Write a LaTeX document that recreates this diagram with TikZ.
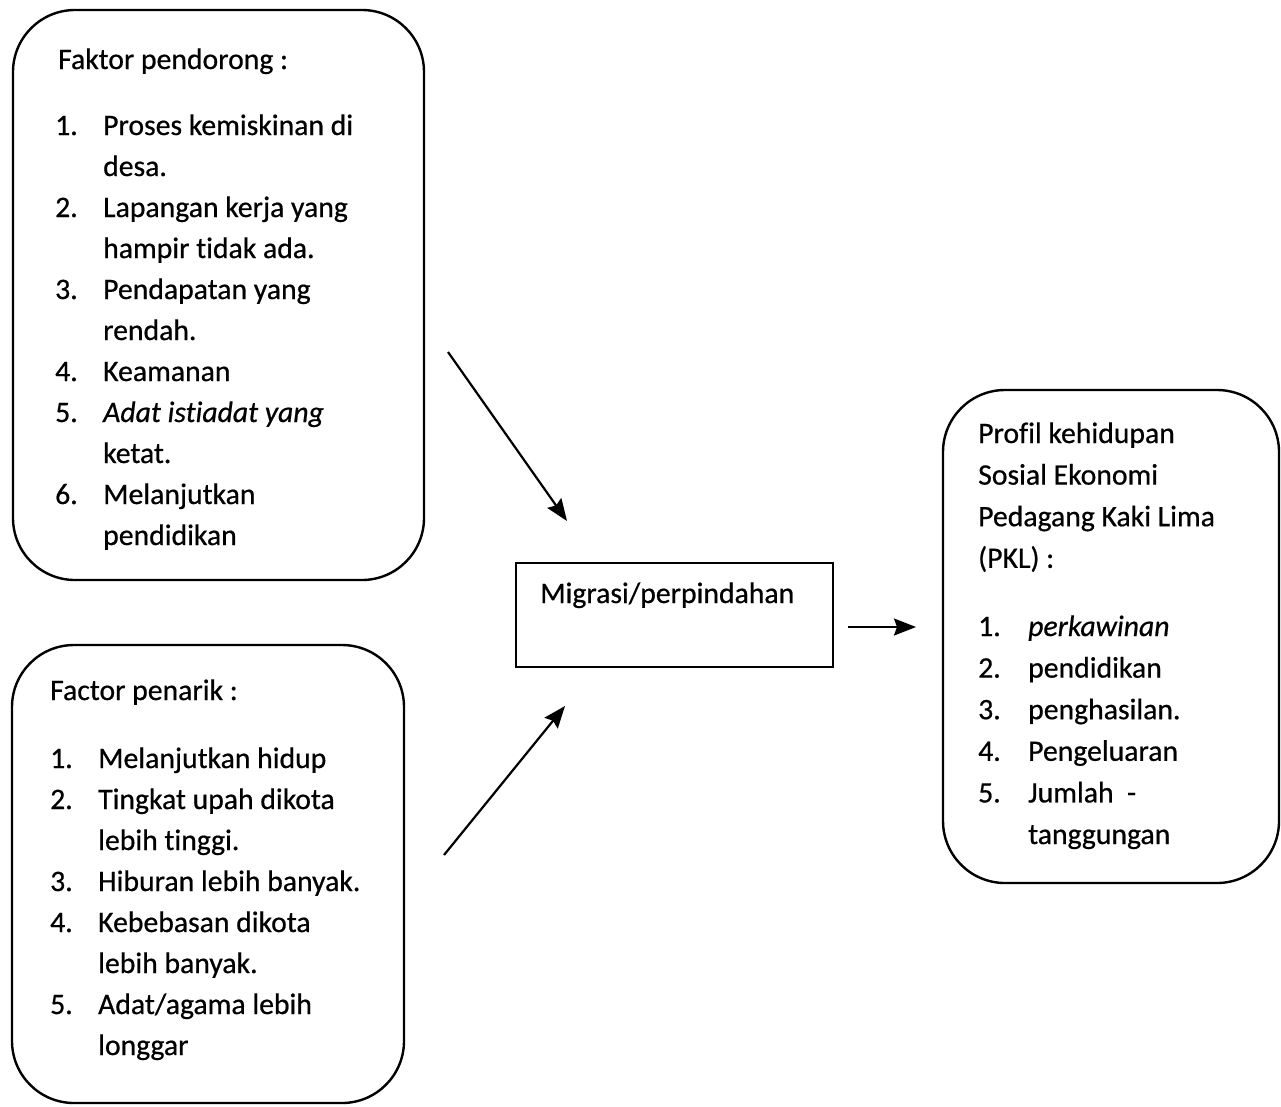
\documentclass[tikz,border=0pt]{standalone}
\usepackage{fontspec}
\setmainfont{Carlito}[Ligatures=NoCommon, FakeBold=0.6]
\usepackage{array}
\usetikzlibrary{arrows.meta}
\tikzset{
  roundbox/.style={draw=black, line width=2.4pt, rounded corners=62pt, inner sep=0pt},
  plainbox/.style={draw=black, line width=2.4pt, inner sep=0pt},
  txt/.style={anchor=base west, inner sep=0pt, font=\fontsize{29.7}{41}\selectfont},
  txtb/.style={anchor=base west, inner sep=0pt, font=\fontsize{29.7}{41.6}\selectfont},
  flow/.style={line width=2.2pt, -{Stealth[length=22pt,width=17pt,inset=3pt]}}
}
\begin{document}
\begin{tikzpicture}[x=1pt,y=-1pt]
\useasboundingbox (0,0) rectangle (1281,1106);
\fill[white] (0,0) rectangle (1281,1106);

% boxes
\node[roundbox, minimum width=411pt, minimum height=570pt] (push) at (218.5,295) {};
\node[roundbox, minimum width=392pt, minimum height=458pt] (pull) at (208,874) {};
\node[roundbox, minimum width=336pt, minimum height=493pt] (prof) at (1111,636.5) {};
\node[plainbox, minimum width=317pt, minimum height=104pt] (mig) at (674.5,615) {};

% box 1 text
\node[txt] (pushT) at (58,69) {Faktor pendorong :};
\node[txt] (pushL) at (55,135) {\begin{tabular}[t]{@{}p{48pt}@{}l@{}}
1. & Proses kemiskinan di\\
   & desa.\\
2. & Lapangan kerja yang\\
   & hampir tidak ada.\\
3. & Pendapatan yang\\
   & rendah.\\
4. & Keamanan\\
5. & \textit{Adat istiadat yang}\\
   & ketat.\\
6. & Melanjutkan\\
   & pendidikan
\end{tabular}};

% box 2 text
\node[txt] (pullT) at (50,700) {Factor penarik :};
\node[txt] (pullL) at (50,768) {\begin{tabular}[t]{@{}p{48pt}@{}l@{}}
1. & Melanjutkan hidup\\
2. & Tingkat upah dikota\\
   & lebih tinggi.\\
3. & Hiburan lebih banyak.\\
4. & Kebebasan dikota\\
   & lebih banyak.\\
5. & Adat/agama lebih\\
   & longgar
\end{tabular}};

% box 3 text
\node[txtb] (profT) at (978,443) {\begin{tabular}[t]{@{}l@{}}
Profil kehidupan\\
Sosial Ekonomi\\
Pedagang Kaki Lima\\
(PKL) :
\end{tabular}};
\node[txtb] (profL) at (978,636) {\begin{tabular}[t]{@{}p{50pt}@{}l@{}}
1. & \textit{perkawinan}\\
2. & pendidikan\\
3. & penghasilan.\\
4. & Pengeluaran\\
5. & Jumlah~~-\\
   & tanggungan
\end{tabular}};

% middle text
\node[txt] (migT) at (540,603) {Migrasi/perpindahan};

% arrows
\coordinate (a1s) at (448,352);
\coordinate (a1e) at (567,521);
\coordinate (a2s) at (444,855);
\coordinate (a2e) at (565,706);
\coordinate (a3s) at (848,627);
\coordinate (a3e) at (916,627);
\draw[flow] (a1s) -- (a1e);
\draw[flow] (a2s) -- (a2e);
\draw[flow] (a3s) -- (a3e);
\end{tikzpicture}
\end{document}
